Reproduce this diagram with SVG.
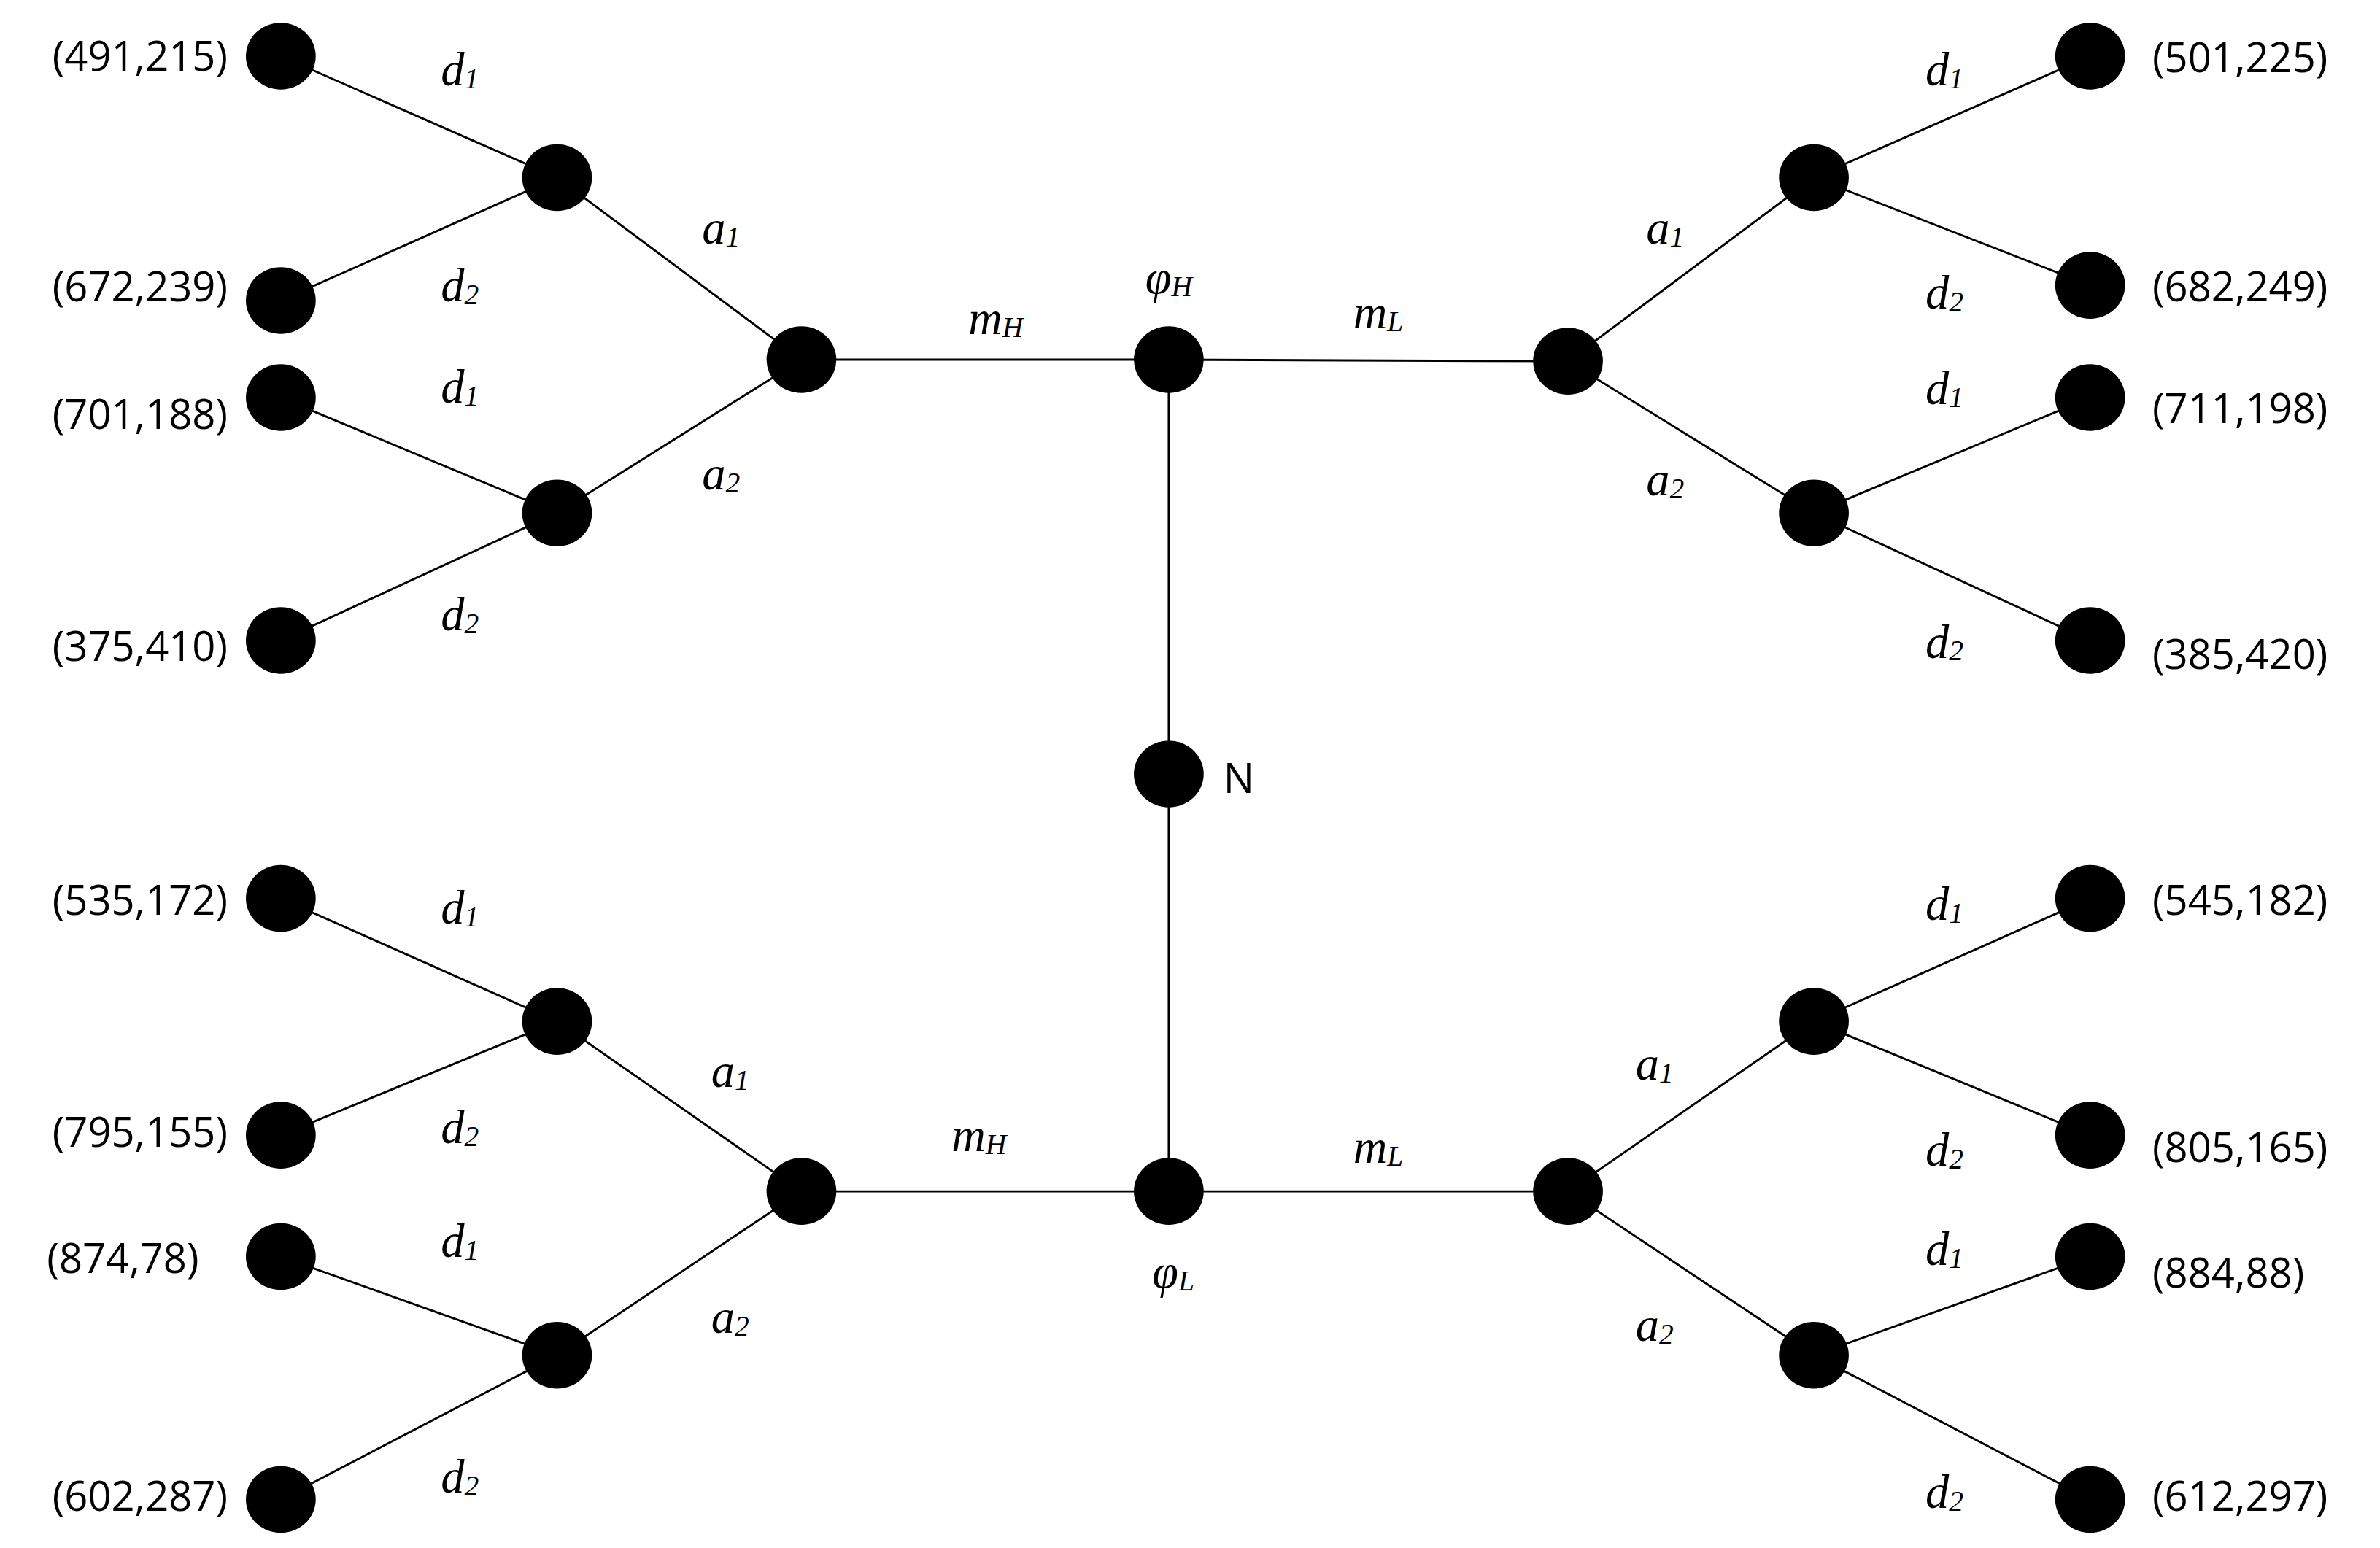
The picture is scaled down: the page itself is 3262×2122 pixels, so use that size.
<svg xmlns="http://www.w3.org/2000/svg" width="3262" height="2122" viewBox="0 0 3262 2122">
<style>
.n{fill:#000}
.e{stroke:#000;stroke-width:1.4;fill:none}
.c{font-family:"Open Sans","Liberation Sans",Arial,sans-serif;font-size:27px;fill:#000;dominant-baseline:central}
.m{font-family:"Liberation Serif","Times New Roman",serif;font-style:italic;font-size:31px;fill:#000;text-anchor:middle;dominant-baseline:central}
.s{font-size:19px}
</style>
<rect width="3262" height="2122" fill="#fff"/>
<g transform="scale(2.0804)">
<g id="edges">
<path class="e" d="M185 37L367 117L528 237L367 338L185 422M185 198L367 117M185 262L367 338M528 237H770L1033 238L1195 117L1377 37M1195 117L1377 188M1033 238L1195 338L1377 262M1195 338L1377 422M770 237V785M185 592L367 673L528 785L367 893L185 988M185 748L367 673M185 828L367 893M528 785H1033L1195 673L1377 592M1195 673L1377 748M1033 785L1195 893L1377 828M1195 893L1377 988"/>
</g>
<g id="nodes">
<ellipse id="lt1" class="n" cx="185" cy="37" rx="23" ry="22"/>
<ellipse id="lt2" class="n" cx="185" cy="198" rx="23" ry="22"/>
<ellipse id="lt3" class="n" cx="185" cy="262" rx="23" ry="22"/>
<ellipse id="lt4" class="n" cx="185" cy="422" rx="23" ry="22"/>
<ellipse id="ltm1" class="n" cx="367" cy="117" rx="23" ry="22"/>
<ellipse id="ltm2" class="n" cx="367" cy="338" rx="23" ry="22"/>
<ellipse id="lth" class="n" cx="528" cy="237" rx="23" ry="22"/>
<ellipse id="phiH" class="n" cx="770" cy="237" rx="23" ry="22"/>
<ellipse id="N" class="n" cx="770" cy="510" rx="23" ry="22"/>
<ellipse id="phiL" class="n" cx="770" cy="785" rx="23" ry="22"/>
<ellipse id="rth" class="n" cx="1033" cy="238" rx="23" ry="22"/>
<ellipse id="rtm1" class="n" cx="1195" cy="117" rx="23" ry="22"/>
<ellipse id="rtm2" class="n" cx="1195" cy="338" rx="23" ry="22"/>
<ellipse id="rt1" class="n" cx="1377" cy="37" rx="23" ry="22"/>
<ellipse id="rt2" class="n" cx="1377" cy="188" rx="23" ry="22"/>
<ellipse id="rt3" class="n" cx="1377" cy="262" rx="23" ry="22"/>
<ellipse id="rt4" class="n" cx="1377" cy="422" rx="23" ry="22"/>
<ellipse id="lb1" class="n" cx="185" cy="592" rx="23" ry="22"/>
<ellipse id="lb2" class="n" cx="185" cy="748" rx="23" ry="22"/>
<ellipse id="lb3" class="n" cx="185" cy="828" rx="23" ry="22"/>
<ellipse id="lb4" class="n" cx="185" cy="988" rx="23" ry="22"/>
<ellipse id="lbm1" class="n" cx="367" cy="673" rx="23" ry="22"/>
<ellipse id="lbm2" class="n" cx="367" cy="893" rx="23" ry="22"/>
<ellipse id="lbh" class="n" cx="528" cy="785" rx="23" ry="22"/>
<ellipse id="rbh" class="n" cx="1033" cy="785" rx="23" ry="22"/>
<ellipse id="rbm1" class="n" cx="1195" cy="673" rx="23" ry="22"/>
<ellipse id="rbm2" class="n" cx="1195" cy="893" rx="23" ry="22"/>
<ellipse id="rb1" class="n" cx="1377" cy="592" rx="23" ry="22"/>
<ellipse id="rb2" class="n" cx="1377" cy="748" rx="23" ry="22"/>
<ellipse id="rb3" class="n" cx="1377" cy="828" rx="23" ry="22"/>
<ellipse id="rb4" class="n" cx="1377" cy="988" rx="23" ry="22"/>
</g>
<g id="labels">
<g class="c" text-anchor="end">
<text x="150" y="36">(491,215)</text><text x="150" y="188">(672,239)</text>
<text x="150" y="272">(701,188)</text><text x="150" y="425">(375,410)</text>
<text x="150" y="592">(535,172)</text><text x="150" y="745">(795,155)</text>
<text x="131" y="828">(874,78)</text><text x="150" y="985">(602,287)</text>
</g>
<g class="c">
<text x="1418" y="37">(501,225)</text><text x="1418" y="188">(682,249)</text>
<text x="1418" y="268">(711,198)</text><text x="1418" y="430">(385,420)</text>
<text x="1418" y="592">(545,182)</text><text x="1418" y="755">(805,165)</text>
<text x="1418" y="838">(884,88)</text><text x="1418" y="985">(612,297)</text>
<text x="806" y="512">N</text>
</g>
<g class="m">
<text x="303" y="46">d<tspan class="s" dy="6">1</tspan></text>
<text x="303" y="188">d<tspan class="s" dy="6">2</tspan></text>
<text x="303" y="255">d<tspan class="s" dy="6">1</tspan></text>
<text x="303" y="405">d<tspan class="s" dy="6">2</tspan></text>
<text x="475" y="150">a<tspan class="s" dy="6">1</tspan></text>
<text x="475" y="312">a<tspan class="s" dy="6">2</tspan></text>
<text x="656" y="210">m<tspan class="s" dy="6">H</tspan></text>
<text x="770" y="183">φ<tspan class="s" dy="6">H</tspan></text>
<text x="908" y="206">m<tspan class="s" dy="6">L</tspan></text>
<text x="1097" y="150">a<tspan class="s" dy="6">1</tspan></text>
<text x="1097" y="316">a<tspan class="s" dy="6">2</tspan></text>
<text x="1281" y="46">d<tspan class="s" dy="6">1</tspan></text>
<text x="1281" y="193">d<tspan class="s" dy="6">2</tspan></text>
<text x="1281" y="256">d<tspan class="s" dy="6">1</tspan></text>
<text x="1281" y="423">d<tspan class="s" dy="6">2</tspan></text>
<text x="303" y="598">d<tspan class="s" dy="6">1</tspan></text>
<text x="303" y="743">d<tspan class="s" dy="6">2</tspan></text>
<text x="303" y="818">d<tspan class="s" dy="6">1</tspan></text>
<text x="303" y="973">d<tspan class="s" dy="6">2</tspan></text>
<text x="481" y="706">a<tspan class="s" dy="6">1</tspan></text>
<text x="481" y="868">a<tspan class="s" dy="6">2</tspan></text>
<text x="645" y="748">m<tspan class="s" dy="6">H</tspan></text>
<text x="773" y="838">φ<tspan class="s" dy="6">L</tspan></text>
<text x="908" y="756">m<tspan class="s" dy="6">L</tspan></text>
<text x="1090" y="701">a<tspan class="s" dy="6">1</tspan></text>
<text x="1090" y="873">a<tspan class="s" dy="6">2</tspan></text>
<text x="1281" y="596">d<tspan class="s" dy="6">1</tspan></text>
<text x="1281" y="758">d<tspan class="s" dy="6">2</tspan></text>
<text x="1281" y="823">d<tspan class="s" dy="6">1</tspan></text>
<text x="1281" y="983">d<tspan class="s" dy="6">2</tspan></text>
</g>
</g>
</g>
</svg>
